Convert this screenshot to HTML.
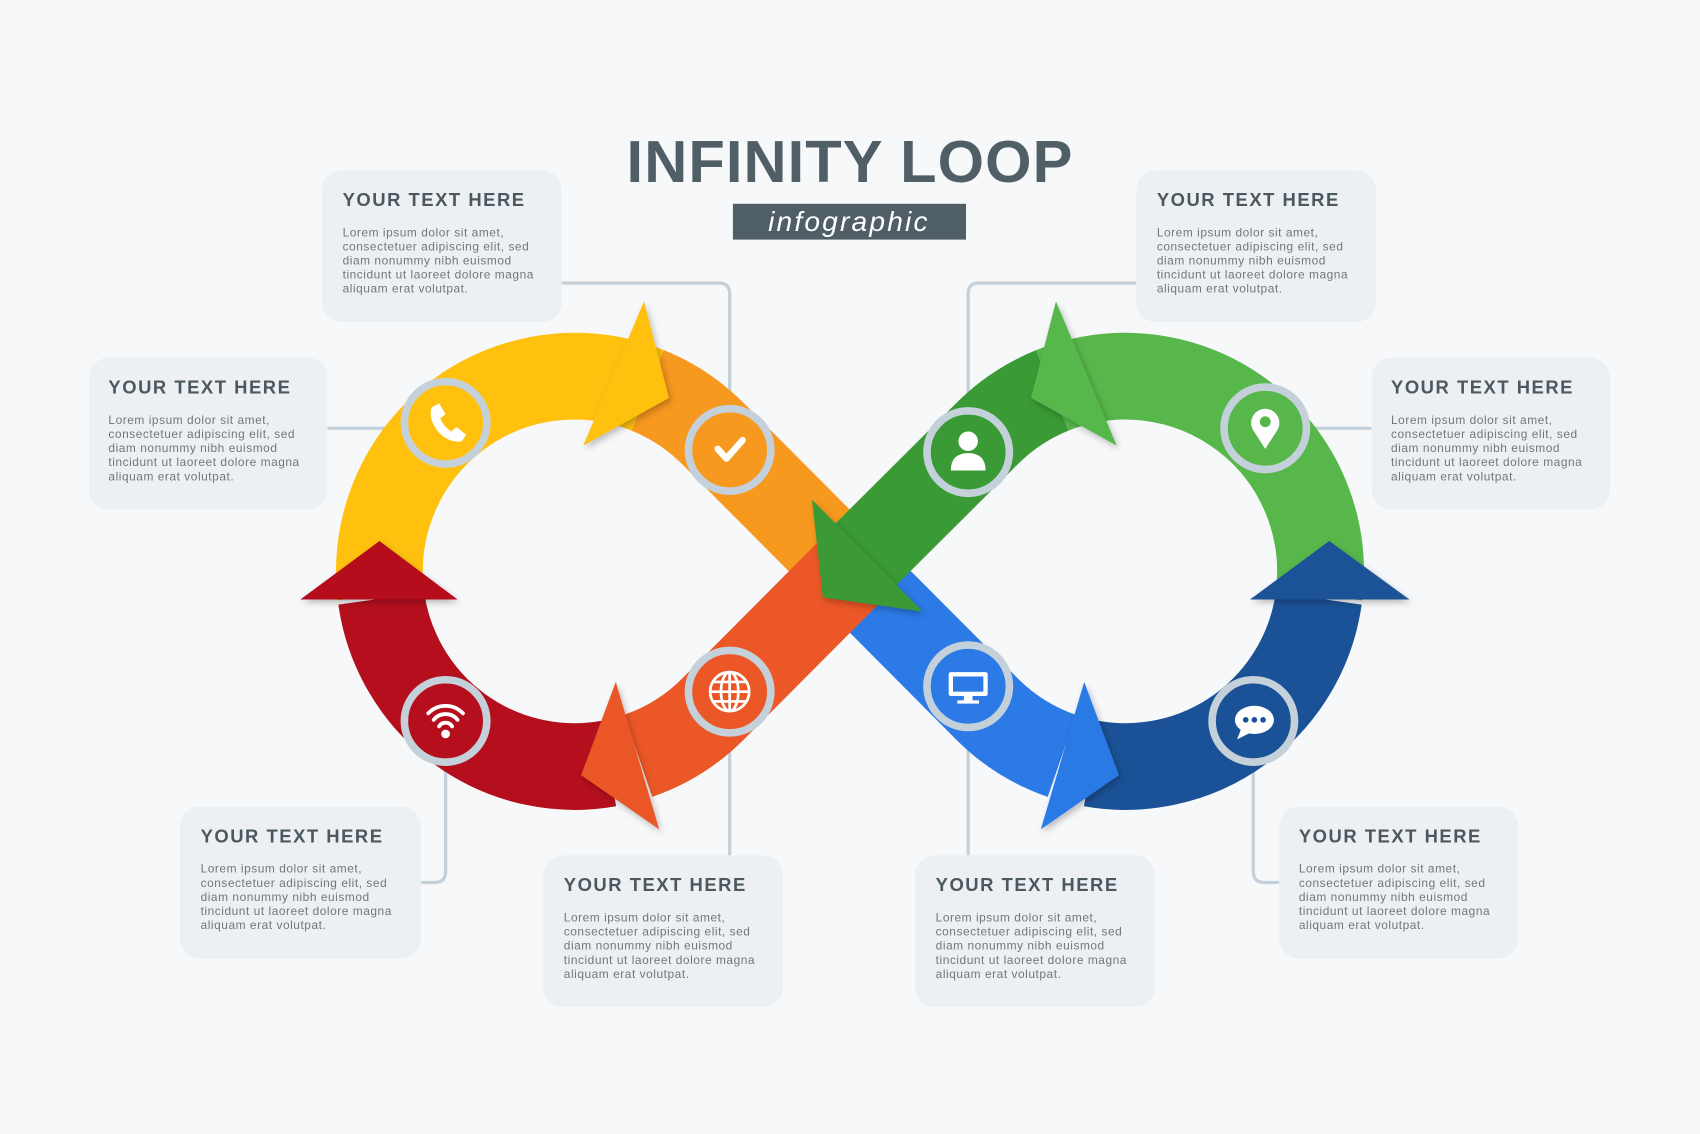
<!DOCTYPE html>
<html><head><meta charset="utf-8"><style>
html,body{margin:0;padding:0;background:#F6F8FA;}
svg{display:block;}
.t{font-family:"Liberation Sans",sans-serif;font-weight:bold;font-size:17px;letter-spacing:1.4px;fill:#4C5860;}
.b{font-family:"Liberation Sans",sans-serif;font-size:11px;fill:#6E777E;letter-spacing:0.5px;}
</style></head><body>
<svg width="1700" height="1134" viewBox="0 0 1568 1046" preserveAspectRatio="none" xmlns="http://www.w3.org/2000/svg">
<defs>
<filter id="sh" x="-30%" y="-30%" width="160%" height="160%"><feDropShadow dx="2" dy="3" stdDeviation="3" flood-color="#000" flood-opacity="0.25"/></filter>
</defs>
<rect width="1568" height="1046" fill="#F6F8FA"/>

<text x="784" y="168" text-anchor="middle" font-family="Liberation Sans,sans-serif" font-weight="bold" font-size="55" letter-spacing="1" fill="#505E66">INFINITY LOOP</text>
<rect x="676" y="188" width="215" height="33" fill="#505E66"/>
<text x="783" y="213" text-anchor="middle" font-family="Liberation Sans,sans-serif" font-style="italic" font-size="26" letter-spacing="2" fill="#fff">infographic</text>

<g fill="none" stroke="#C5D1DA" stroke-width="3">
<path d="M518 261 H663 Q673 261 673 271 V380"/>
<path d="M1048 261 H903 Q893 261 893 271 V380"/>
<path d="M302 395 H375"/>
<path d="M1205 395 H1265"/>
<path d="M411 700 V804 Q411 814 401 814 H388"/>
<path d="M673 675 V789"/>
<path d="M893 672 V789"/>
<path d="M1156 700 V804 Q1156 814 1166 814 H1180"/>
</g>

<g fill="#EDF0F3">
<rect x="297" y="157" width="221" height="140" rx="18"/>
<rect x="1048" y="157" width="221" height="140" rx="18"/>
<rect x="82" y="330" width="220" height="140" rx="18"/>
<rect x="1265" y="330" width="220" height="140" rx="18"/>
<rect x="166" y="744" width="222" height="140" rx="18"/>
<rect x="501" y="789" width="221" height="140" rx="18"/>
<rect x="844" y="789" width="221" height="140" rx="18"/>
<rect x="1180" y="744" width="220" height="140" rx="18"/>
</g>
<g>
<g transform="translate(316,157)"><text class="t" x="0" y="33">YOUR TEXT HERE</text><text class="b" y="61">Lorem ipsum dolor sit amet,</text><text class="b" y="74">consectetuer adipiscing elit, sed</text><text class="b" y="87">diam nonummy nibh euismod</text><text class="b" y="100">tincidunt ut laoreet dolore magna</text><text class="b" y="113">aliquam erat volutpat.</text></g>
<g transform="translate(1067,157)"><text class="t" x="0" y="33">YOUR TEXT HERE</text><text class="b" y="61">Lorem ipsum dolor sit amet,</text><text class="b" y="74">consectetuer adipiscing elit, sed</text><text class="b" y="87">diam nonummy nibh euismod</text><text class="b" y="100">tincidunt ut laoreet dolore magna</text><text class="b" y="113">aliquam erat volutpat.</text></g>
<g transform="translate(100,330)"><text class="t" x="0" y="33">YOUR TEXT HERE</text><text class="b" y="61">Lorem ipsum dolor sit amet,</text><text class="b" y="74">consectetuer adipiscing elit, sed</text><text class="b" y="87">diam nonummy nibh euismod</text><text class="b" y="100">tincidunt ut laoreet dolore magna</text><text class="b" y="113">aliquam erat volutpat.</text></g>
<g transform="translate(1283,330)"><text class="t" x="0" y="33">YOUR TEXT HERE</text><text class="b" y="61">Lorem ipsum dolor sit amet,</text><text class="b" y="74">consectetuer adipiscing elit, sed</text><text class="b" y="87">diam nonummy nibh euismod</text><text class="b" y="100">tincidunt ut laoreet dolore magna</text><text class="b" y="113">aliquam erat volutpat.</text></g>
<g transform="translate(185,744)"><text class="t" x="0" y="33">YOUR TEXT HERE</text><text class="b" y="61">Lorem ipsum dolor sit amet,</text><text class="b" y="74">consectetuer adipiscing elit, sed</text><text class="b" y="87">diam nonummy nibh euismod</text><text class="b" y="100">tincidunt ut laoreet dolore magna</text><text class="b" y="113">aliquam erat volutpat.</text></g>
<g transform="translate(520,789)"><text class="t" x="0" y="33">YOUR TEXT HERE</text><text class="b" y="61">Lorem ipsum dolor sit amet,</text><text class="b" y="74">consectetuer adipiscing elit, sed</text><text class="b" y="87">diam nonummy nibh euismod</text><text class="b" y="100">tincidunt ut laoreet dolore magna</text><text class="b" y="113">aliquam erat volutpat.</text></g>
<g transform="translate(863,789)"><text class="t" x="0" y="33">YOUR TEXT HERE</text><text class="b" y="61">Lorem ipsum dolor sit amet,</text><text class="b" y="74">consectetuer adipiscing elit, sed</text><text class="b" y="87">diam nonummy nibh euismod</text><text class="b" y="100">tincidunt ut laoreet dolore magna</text><text class="b" y="113">aliquam erat volutpat.</text></g>
<g transform="translate(1198,744)"><text class="t" x="0" y="33">YOUR TEXT HERE</text><text class="b" y="61">Lorem ipsum dolor sit amet,</text><text class="b" y="74">consectetuer adipiscing elit, sed</text><text class="b" y="87">diam nonummy nibh euismod</text><text class="b" y="100">tincidunt ut laoreet dolore magna</text><text class="b" y="113">aliquam erat volutpat.</text></g>
</g>

<g fill="none" stroke-width="80" stroke-linecap="butt">
<path stroke="#F7981F" d="M597.4 360.1 A180 180 0 0 1 657.3 399.7 L792 535"/>
<path stroke="#2B7AE6" d="M776 519 L910.7 654.3 A180 180 0 0 0 979.4 697.2"/>
<path stroke="#EB5726" d="M794 517 L657.3 654.3 A180 180 0 0 1 588.6 697.2"/>
<path stroke="#FFC10E" d="M351.35 548.9 A180 180 0 0 1 597.4 360.1"/>
<path stroke="#B50F1D" d="M561.3 704.3 A180 180 0 0 1 351.7 552.1"/>
<path stroke="#57B74B" d="M1216.65 548.9 A180 180 0 0 0 970.6 360.1"/>
<path stroke="#1B5297" d="M1006.7 704.3 A180 180 0 0 0 1216.3 552.1"/>
<path stroke="#3A9A35" d="M970.6 360.1 A180 180 0 0 0 910.7 399.7 L798 512"/>
</g>
<g filter="url(#sh)">
<polygon fill="#FFC10E" points="594,278 617,367 538,411"/>
<polygon fill="#B50F1D" points="277,553 422,553 350,499"/>
<polygon fill="#EB5726" points="568,629 608,765 536,715"/>
<polygon fill="#57B74B" points="974,278 951,367 1030,411"/>
<polygon fill="#1B5297" points="1153,553 1300,553 1226,499"/>
<polygon fill="#2B7AE6" points="1000,629 960,765 1032,715"/>
<polygon fill="#3A9A35" points="749,461 759,551 851,564"/>
</g>

<g stroke="#C5D1DA" stroke-width="7">
<circle cx="411" cy="390" r="38" fill="#FFC10E"/>
<circle cx="673" cy="415" r="38" fill="#F7981F"/>
<circle cx="893" cy="417" r="38" fill="#3A9A35"/>
<circle cx="1167" cy="395" r="38" fill="#57B74B"/>
<circle cx="411" cy="665" r="38" fill="#B50F1D"/>
<circle cx="673" cy="638" r="38" fill="#EB5726"/>
<circle cx="893" cy="633" r="38" fill="#2B7AE6"/>
<circle cx="1156" cy="665" r="38" fill="#1B5297"/>
</g>
<g fill="#fff" stroke="none">
<path d="M398 376 l7 -4 l6 10 l-5 4 q3 7 10 12 l5 -4 l9 7 l-4 6 q-12 2 -22 -9 q-9 -11 -6 -22z"/>
<circle cx="893" cy="407" r="9"/>
<path d="M877 434 q0 -16 16 -16 q16 0 16 16z"/>
<path d="M1167 414 l-11 -17 a13 13 0 1 1 22 0z"/>
<circle cx="1167" cy="389" r="5" fill="#57B74B"/>
<circle cx="411" cy="677" r="4"/>
<rect x="875" y="620" width="36" height="22" rx="2"/>
<rect x="879" y="624" width="28" height="14" fill="#2B7AE6"/>
<rect x="889" y="642" width="8" height="5"/>
<rect x="883" y="646" width="20" height="3"/>
<ellipse cx="1157" cy="664" rx="18" ry="13"/>
<path d="M1145 672 l-4 10 l12 -6z"/>
</g>
<g fill="#1B5297"><circle cx="1149" cy="664" r="2.6"/><circle cx="1157" cy="664" r="2.6"/><circle cx="1165" cy="664" r="2.6"/></g>
<path d="M662 414 l8 9 l15 -17" fill="none" stroke="#fff" stroke-width="6" stroke-linecap="round" stroke-linejoin="round"/>
<g fill="none" stroke="#fff" stroke-width="3.5" stroke-linecap="round">
<path d="M395 658 a22 22 0 0 1 32 0"/>
<path d="M400 664 a14 14 0 0 1 22 0"/>
<path d="M405 670 a7 7 0 0 1 12 0"/>
</g>
<g fill="none" stroke="#fff" stroke-width="2.5">
<circle cx="673" cy="638" r="18"/>
<ellipse cx="673" cy="638" rx="8" ry="18"/>
<path d="M673 620 V656 M655 638 H691 M657 629 H689 M657 647 H689"/>
</g>
</svg>
</body></html>
